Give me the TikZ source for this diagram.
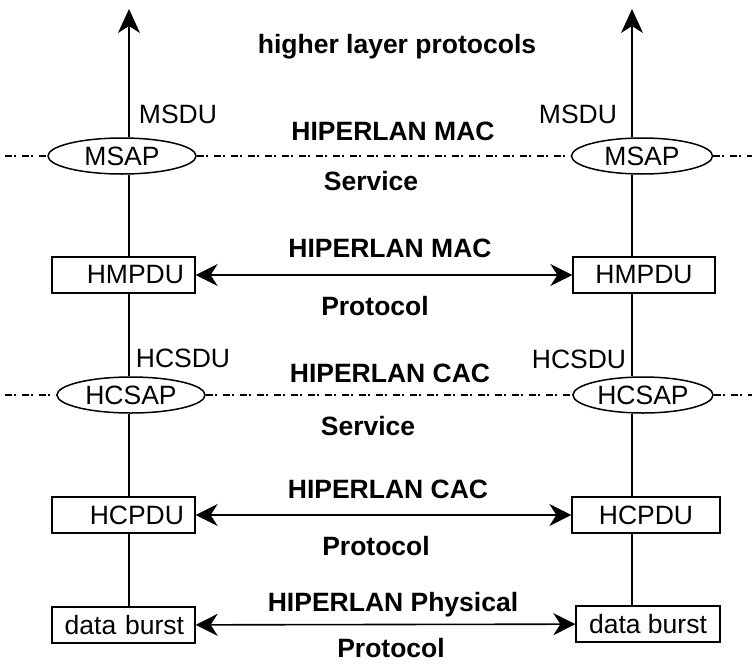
\documentclass[tikz,border=0pt]{standalone}
\usepackage{fontspec}
\setmainfont{Liberation Sans}
\usetikzlibrary{arrows.meta,shapes.geometric}

\begin{document}
\begin{tikzpicture}[x=1pt, y=-1pt,
  every node/.style={font=\fontsize{26.5}{30}\selectfont},
  pdubox/.style={draw,fill=white,line width=1.3pt,minimum height=36pt,inner sep=0pt},
  lpdu/.style={pdubox,text width=121pt,align=right,inner xsep=11pt},
  rpdu/.style={pdubox,minimum width=#1},
  sap/.style={draw,ellipse,fill=white,line width=1.5pt,inner sep=0pt,
              minimum width=#1,minimum height=36pt},
  hdr/.style={anchor=base,font=\fontsize{26.5}{30}\selectfont\bfseries},
  sdu/.style={anchor=base},
  svc/.style={line width=1.5pt,dash pattern=on 7pt off 2pt on 2pt off 6pt},
  vline/.style={line width=1.8pt},
  up/.style={vline,-{Stealth[length=24pt,width=22pt,inset=7pt]}},
  peer/.style={line width=1.6pt,
    {Stealth[length=22pt,width=22pt,inset=7pt]}-{Stealth[length=22pt,width=22pt,inset=7pt]}}]
  \useasboundingbox (0,0) rectangle (755,664);

  % service access points
  \node[sap=148pt] (msapL) at (122,156) {MSAP};
  \node[sap=141pt] (msapR) at (642,156) {MSAP};
  \node[sap=148pt] (csapL) at (131,395) {HCSAP};
  \node[sap=140pt] (csapR) at (643,395) {HCSAP};

  % protocol data units
  \node[lpdu] (mpduL) at (123.5,275) {HMPDU};
  \node[rpdu=142pt] (mpduR) at (644,275) {HMPDU};
  \node[lpdu] (cpduL) at (123.5,515) {HCPDU};
  \node[rpdu=148pt] (cpduR) at (646,515) {HCPDU};
  \node[lpdu] (burstL) at (123.5,625) {data burst};
  \node[rpdu=144pt] (burstR) at (648,624) {data burst};

  % labels
  \node[hdr] (hlp)   at (397,53)  {higher layer protocols};
  \node[hdr] (macS)  at (393,140) {HIPERLAN MAC};
  \node[hdr] (svcM)  at (371,190) {Service};
  \node[hdr] (macP)  at (390,257) {HIPERLAN MAC};
  \node[hdr] (protM) at (375,315) {Protocol};
  \node[hdr] (cacS)  at (390,382) {HIPERLAN CAC};
  \node[hdr] (svcC)  at (368,435) {Service};
  \node[hdr] (cacP)  at (388,498) {HIPERLAN CAC};
  \node[hdr] (protC) at (376,555) {Protocol};
  \node[hdr] (phyP)  at (393,611) {HIPERLAN Physical};
  \node[hdr] (protP) at (391,657) {Protocol};
  \node[sdu] (msduL)  at (178,123) {MSDU};
  \node[sdu] (msduR)  at (578,123) {MSDU};
  \node[sdu] (hcsduL) at (183,367) {HCSDU};
  \node[sdu] (hcsduR) at (579,368) {HCSDU};

  % stacks
  \coordinate (tipL) at (129,9);
  \coordinate (tipR) at (632,9);
  \draw[vline] (burstL.north -| tipL) -- (cpduL.south -| tipL);
  \draw[vline] (cpduL.north -| tipL) -- (csapL.south -| tipL);
  \draw[vline] (csapL.north -| tipL) -- (mpduL.south -| tipL);
  \draw[vline] (mpduL.north -| tipL) -- (msapL.south -| tipL);
  \draw[up] (msapL.north -| tipL) -- (tipL);
  \draw[vline] (burstR.north -| tipR) -- (cpduR.south -| tipR);
  \draw[vline] (cpduR.north -| tipR) -- (csapR.south -| tipR);
  \draw[vline] (csapR.north -| tipR) -- (mpduR.south -| tipR);
  \draw[vline] (mpduR.north -| tipR) -- (msapR.south -| tipR);
  \draw[up] (msapR.north -| tipR) -- (tipR);

  % peer protocols
  \draw[peer] (mpduL) -- (mpduR);
  \draw[peer] (cpduL) -- (cpduR);
  \draw[peer] (burstL) -- (burstR);

  % service boundaries
  \coordinate (mEndL) at (5,156);
  \coordinate (mEndR) at (752,156);
  \coordinate (cEndL) at (5,395);
  \coordinate (cEndR) at (752,395);
  \draw[svc] (mEndL) -- (msapL.west);
  \draw[svc] (msapL.east) -- (msapR.west);
  \draw[svc] (msapR.east) -- (mEndR);
  \draw[svc] (cEndL) -- (csapL.west);
  \draw[svc] (csapL.east) -- (csapR.west);
  \draw[svc] (csapR.east) -- (cEndR);
\end{tikzpicture}
\end{document}
